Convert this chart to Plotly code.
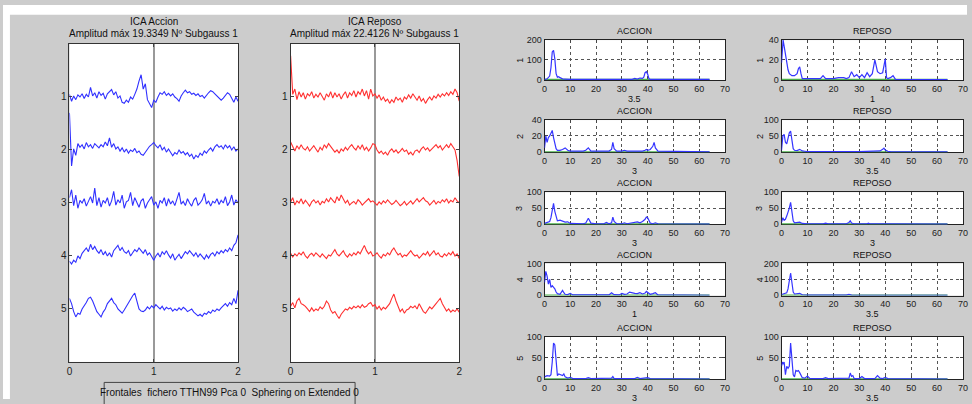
import numpy as np
import plotly.graph_objects as go

W, H = 972, 404

# ---------------- DATA ----------------
row_labels = ["1", "2", "3", "4", "5"]
time_ticks = [0, 1, 2]

# ICA components, deviation from each row's baseline (positive = up), time 0..2
accion_1 = [0.05,-0.08,0.02,-0.05,0.04,0.0,0.06,-0.03,0.05,0.0,0.18,0.02,0.08,-0.02,0.1,0.03,0.07,-0.04,0.06,0.1,
            0.14,0.04,0.1,-0.02,0.02,-0.1,-0.12,-0.06,-0.1,0.0,-0.04,0.05,0.15,0.3,0.42,0.15,0.25,-0.05,-0.12,-0.2,
            -0.06,-0.1,0.0,0.08,0.05,0.1,0.03,0.07,0.02,0.06,0.0,-0.03,-0.08,0.02,0.08,0.13,0.08,0.1,0.05,0.07,
            0.03,0.06,0.01,0.03,-0.02,0.04,0.08,0.12,0.1,0.06,0.02,-0.03,-0.06,-0.02,0.04,0.08,0.05,-0.04,-0.1,0.0,-0.08]
accion_2 = [0.7,-0.3,0.02,-0.1,0.12,0.05,0.1,0.02,0.14,0.06,0.1,0.03,0.12,0.08,0.04,0.1,0.06,0.15,0.08,0.23,
            0.05,0.12,0.02,0.06,-0.02,0.04,-0.04,0.02,-0.06,0.0,-0.03,0.03,-0.05,-0.02,-0.08,-0.1,-0.04,0.02,0.07,0.1,
            0.14,0.08,0.04,0.1,0.0,0.05,-0.04,0.02,-0.06,-0.11,-0.05,-0.08,0.0,-0.06,-0.03,-0.09,-0.05,-0.12,-0.08,-0.17,
            -0.1,-0.14,-0.06,-0.1,-0.02,-0.06,0.0,0.04,-0.02,0.06,0.1,0.05,0.08,0.02,0.1,0.04,0.08,0.0,0.06,-0.02,0.02]
accion_3 = [0.1,0.25,-0.05,0.15,-0.1,0.05,0.0,0.08,-0.06,0.03,0.12,0.0,0.28,-0.05,0.1,-0.08,0.05,0.0,0.1,-0.06,
            0.04,0.22,-0.04,0.06,0.0,0.15,-0.1,0.02,0.05,0.2,-0.05,0.1,0.0,-0.08,0.04,0.08,-0.1,0.0,0.06,0.12,
            -0.04,0.02,-0.1,0.05,0.0,0.1,-0.06,0.08,-0.02,0.04,-0.05,0.06,0.2,-0.02,0.03,-0.05,0.08,0.0,-0.06,0.05,
            0.1,-0.04,0.0,0.06,0.18,-0.02,0.04,-0.06,0.03,0.0,0.08,-0.03,0.05,0.0,0.12,-0.05,0.02,0.15,-0.04,0.06,0.0]
accion_4 = [-0.1,-0.15,-0.08,-0.12,0.0,-0.05,0.05,0.1,0.15,0.08,0.22,0.12,0.18,0.1,0.05,0.12,0.02,0.08,0.0,0.06,
            -0.02,0.1,0.15,0.2,0.1,0.16,0.08,0.05,0.1,0.0,0.06,0.12,0.08,0.15,0.1,0.05,0.12,0.02,0.06,-0.02,
            -0.08,0.0,0.05,-0.02,0.08,0.03,0.1,0.02,-0.04,0.04,-0.08,-0.02,0.03,-0.05,0.02,0.08,0.04,0.1,0.05,0.0,
            0.06,-0.02,0.04,0.0,-0.06,0.02,-0.04,0.03,0.06,0.0,0.08,0.04,0.1,0.06,0.12,0.08,0.15,0.1,0.2,0.25,0.4]
accion_5 = [0.2,0.1,-0.05,-0.15,-0.08,-0.1,0.0,0.05,0.12,0.2,0.22,0.15,0.05,-0.05,-0.1,-0.15,-0.06,0.0,0.1,0.15,
            0.2,0.12,0.08,0.0,-0.05,-0.08,-0.02,0.05,0.12,0.18,0.25,0.3,0.15,0.0,-0.04,-0.05,-0.02,0.04,0.0,0.06,
            0.02,0.08,0.04,0.0,0.05,-0.02,0.03,0.0,0.02,-0.04,0.0,-0.03,0.02,-0.02,0.03,0.0,-0.05,-0.02,0.0,-0.06,
            -0.1,-0.13,-0.1,-0.14,-0.08,-0.1,-0.05,-0.08,-0.02,-0.05,0.0,-0.03,0.02,0.06,0.1,0.05,0.12,0.08,0.2,0.1,0.35]

reposo_1 = [0.78,0.05,0.15,-0.05,0.1,0.0,0.08,-0.04,0.06,0.02,0.1,-0.02,0.05,0.0,0.08,0.02,-0.06,0.06,0.0,0.1,
            -0.02,0.08,0.0,0.06,-0.04,0.04,0.1,-0.02,0.08,0.03,0.12,0.0,0.1,0.05,0.15,0.02,0.12,-0.04,0.15,0.02,
            0.06,-0.02,0.04,-0.06,0.0,-0.08,-0.04,-0.12,-0.05,-0.1,0.0,-0.06,-0.02,-0.1,0.0,-0.04,0.04,-0.02,0.06,0.0,
            -0.06,0.02,-0.08,-0.03,-0.12,-0.05,0.0,-0.06,0.02,-0.02,0.05,0.0,0.06,0.02,0.08,0.03,0.1,0.05,0.15,0.08,-0.08]
reposo_2 = [0.15,0.05,-0.02,0.08,0.02,0.1,0.03,0.0,0.06,-0.02,0.04,0.08,0.02,-0.04,0.05,0.0,0.1,0.04,0.12,0.06,
            0.02,-0.04,0.0,-0.06,0.02,-0.02,0.05,0.0,0.06,0.1,0.04,0.0,0.08,0.02,0.1,0.0,0.05,-0.02,0.04,0.12,
            0.1,0.0,-0.06,-0.02,-0.08,-0.04,-0.1,-0.02,0.02,-0.04,0.0,-0.06,-0.02,0.03,-0.03,0.0,-0.08,-0.04,-0.1,-0.02,
            0.0,-0.05,0.02,0.06,0.0,0.04,-0.02,0.02,0.06,0.1,0.04,0.08,0.0,0.05,0.1,0.04,0.12,0.06,0.0,-0.2,-0.5]
reposo_3 = [0.02,0.1,-0.04,0.04,0.0,0.08,-0.02,0.05,0.0,-0.06,0.02,0.06,0.0,0.04,-0.04,0.03,0.0,0.08,0.02,0.1,
            0.05,0.0,0.12,0.04,0.15,0.06,0.0,0.05,-0.04,0.0,0.03,-0.02,0.06,0.02,-0.04,0.0,0.05,0.08,0.02,0.04,
            0.0,-0.04,0.02,-0.02,0.04,0.0,0.06,0.02,-0.03,0.0,0.05,0.0,-0.05,-0.02,0.03,-0.04,0.0,0.04,-0.02,0.02,
            0.08,0.02,0.06,0.1,0.04,0.02,-0.04,0.0,0.05,-0.02,0.03,0.0,0.06,0.02,0.08,0.0,0.05,0.02,0.1,0.04,0.0]
reposo_4 = [0.05,-0.02,0.04,0.0,0.06,0.02,0.08,0.0,-0.04,0.02,0.05,0.0,0.06,0.02,-0.02,0.04,0.0,-0.05,0.02,0.0,
            0.06,0.12,0.04,0.0,0.05,0.1,0.02,-0.02,0.04,0.0,0.06,0.02,0.08,0.04,0.12,0.2,0.1,0.04,0.08,0.0,
            0.02,0.06,0.0,-0.04,0.03,0.0,0.06,0.02,0.1,0.15,0.08,0.02,0.05,-0.02,0.02,0.0,0.05,0.1,0.04,0.0,
            0.02,-0.04,0.0,0.05,0.02,0.08,0.0,0.04,0.1,0.02,0.06,0.0,-0.02,0.04,0.0,0.06,0.02,0.08,0.0,0.04,-0.05]
reposo_5 = [0.05,0.12,0.02,0.15,0.2,0.1,0.08,0.05,0.0,-0.05,0.02,-0.04,0.0,-0.03,0.04,0.0,0.05,0.15,0.1,-0.02,
            -0.08,-0.05,-0.12,-0.18,-0.1,-0.05,0.0,-0.02,0.03,0.0,0.05,0.02,0.06,0.02,0.08,0.03,0.05,0.1,0.12,0.05,
            0.08,0.0,0.05,-0.02,0.03,0.0,0.05,0.1,0.2,0.28,0.15,0.05,-0.05,0.0,-0.08,-0.02,0.0,0.05,0.02,0.06,
            0.0,0.1,0.02,-0.05,-0.08,-0.02,0.04,0.0,0.06,0.1,0.15,0.2,0.1,0.02,-0.04,0.0,-0.06,-0.02,-0.05,0.0,-0.06]

accion_series = [accion_1, accion_2, accion_3, accion_4, accion_5]
reposo_series = [reposo_1, reposo_2, reposo_3, reposo_4, reposo_5]

# Spectra (frequency Hz, amplitude)
freq_accion_1 = [0,1,2,2.5,3,3.5,4,4.5,5,5.5,6,7,8,9,10,20,30,33,34,35,36,37,38,38.5,39,39.5,40,40.5,41,45,64]
amp_accion_1 = [0,4,18,60,140,148,105,30,12,15,10,4,3,2,1,1,1,4,1,6,3,8,6,12,35,40,28,5,1,1,1]
freq_reposo_1 = [0,0.3,0.6,1,1.5,2,2.5,3,4,5,6,6.5,7,7.5,8,9,12,15,16,17,20,22,24,25,26,27,28,29,30,31,32,33,34,35,36,37,38,39,40,40.5,41,42,43,44,64]
amp_reposo_1 = [17,30,40,34,26,16,10,6,4,4,6,11,13,6,1,1,1,1,4,1,1,2,2,1,2,8,3,5,2,5,2,7,3,6,20,8,6,7,21,2,1,2,4,0,0]
freq_accion_2 = [0,0.5,1,1.5,2,2.5,3,3.5,4,4.5,5,6,7,8,9,10,15,16,17,18,20,25,26,26.5,27,28,30,31,32,35,38,39,39.5,40,41,42,42.5,43,44,64]
amp_accion_2 = [5,20,12,18,20,25,27,18,10,4,2,2,3,5,2,1,1,2,5,1,1,1,3,12,4,1,1,2,1,1,1,2,3,2,3,7,12,5,1,0]
freq_reposo_2 = [0,0.5,1,1.5,2,2.5,3,3.5,4,4.5,5,6,7,8,9,10,30,35,37,38,39,39.5,40,41,42,64]
amp_reposo_2 = [5,50,55,30,25,40,60,65,30,10,5,4,8,3,2,1,1,1,2,3,8,12,6,2,1,0]
freq_accion_3 = [0,1,2,2.5,3,3.5,4,4.5,5,6,7,8,9,10,15,16,17,18,20,23,24,25,26,26.5,27,28,30,31,32,33,34,35,36,37,38,39,39.5,40,41,42,43,44,64]
amp_accion_3 = [2,4,8,20,50,65,40,20,10,12,8,6,7,2,1,3,18,3,1,1,5,1,4,22,8,1,1,4,1,2,4,5,7,4,8,15,22,20,3,1,4,1,0]
freq_reposo_3 = [0,0.5,1,1.5,2,2.5,3,3.5,4,4.5,5,6,7,8,10,16,17,18,25,26,26.5,27,28,33,33.5,34,39,40,41,64]
amp_reposo_3 = [5,20,12,15,25,35,50,68,30,10,4,5,6,2,1,1,3,1,1,5,10,3,1,1,3,1,1,3,1,0]
freq_accion_4 = [0,0.5,1,1.5,2,2.5,3,3.5,4,4.5,5,6,7,7.5,8,9,10,11,20,25,26,27,29,30,31,32,33,34,35,36,37,38,39,39.5,40,41,42,43,44,64]
amp_accion_4 = [40,75,60,35,50,25,30,25,20,10,5,3,15,8,3,2,6,1,1,1,8,2,1,6,3,4,10,7,6,5,8,4,7,12,8,3,5,8,1,0]
freq_reposo_4 = [0,1,2,2.5,3,3.5,4,4.5,5,6,7,8,10,25,26,27,64]
amp_reposo_4 = [5,8,15,40,100,140,80,20,8,10,12,3,1,1,6,1,0]
freq_accion_5 = [0,1,2,2.5,3,3.5,4,4.5,5,5.5,6,7,7.5,8,9,10,11,16,17,18,26,26.5,27,30,35,36,37,40,41,64]
amp_accion_5 = [5,8,7,10,40,85,80,30,8,12,10,8,12,5,2,4,1,1,3,1,2,6,1,1,1,4,1,3,1,0]
freq_reposo_5 = [0,0.3,0.6,1,1.5,2,2.5,3,3.5,4,4.5,5,5.5,6,6.5,7,7.5,8,9,10,11,16,17,18,26,26.5,27,27.5,28,30,31,32,36,37,38,39,40,41,64]
amp_reposo_5 = [30,40,35,40,10,30,25,30,85,50,10,5,20,18,20,15,8,3,2,7,1,1,3,1,2,14,6,8,1,1,6,1,1,8,2,1,4,1,0]

spec_accion = [(freq_accion_1, amp_accion_1), (freq_accion_2, amp_accion_2), (freq_accion_3, amp_accion_3),
               (freq_accion_4, amp_accion_4), (freq_accion_5, amp_accion_5)]
spec_reposo = [(freq_reposo_1, amp_reposo_1), (freq_reposo_2, amp_reposo_2), (freq_reposo_3, amp_reposo_3),
               (freq_reposo_4, amp_reposo_4), (freq_reposo_5, amp_reposo_5)]
ymax_accion = [200, 40, 100, 100, 100]
ymax_reposo = [40, 100, 100, 200, 100]
xlabel_accion = ["3.5", "3", "3", "1", "3"]
xlabel_reposo = ["1", "3.5", "3", "3.5", "3.5"]
freq_ticks = [0, 10, 20, 30, 40, 50, 60, 70]

# ---------------- LAYOUT HELPERS ----------------
def xd(a, b):
    return [a / W, b / W]

def yd(top, bottom):
    return [1 - bottom / H, 1 - top / H]

def px(x):
    return x / W

def py(y):
    return 1 - y / H

FONT = "Liberation Sans, Arial, sans-serif"
NARROW = "Liberation Sans Narrow, Liberation Sans, sans-serif"
BG = "#cccccc"

fig = go.Figure()
layout = dict(width=W, height=H, margin=dict(l=0, r=0, t=0, b=0),
              paper_bgcolor=BG, plot_bgcolor="white", showlegend=False,
              annotations=[], shapes=[])

def note(x, y, text, size=10, family=FONT, angle=0):
    layout["annotations"].append(dict(x=px(x), y=py(y), xref="paper", yref="paper", text=text,
                                      showarrow=False, xanchor="center", yanchor="middle",
                                      textangle=angle, font=dict(family=family, size=size, color="#111")))

# white strips (screen capture border)
layout["shapes"].append(dict(type="rect", xref="paper", yref="paper", x0=0, x1=1, y0=py(10), y1=1,
                             fillcolor="white", line=dict(width=0), layer="below"))
layout["shapes"].append(dict(type="rect", xref="paper", yref="paper", x0=0, x1=px(7), y0=0, y1=1,
                             fillcolor="white", line=dict(width=0), layer="below"))

# ---- left: ICA time series ----
t_left = [(67, 237), (290, 460)]
series_sets = [accion_series, reposo_series]
colors = ["#3030ff", "#ff3030"]
titles = [("ICA Accion", "Amplitud máx 19.3349 Nº Subgauss 1"),
          ("ICA Reposo", "Amplitud máx 22.4126 Nº Subgauss 1")]
for k in range(2):
    n = k + 1
    xa, ya = ("x" if n == 1 else f"x{n}"), ("y" if n == 1 else f"y{n}")
    for i, s in enumerate(series_sets[k]):
        t = np.linspace(0, 2, len(s))
        fig.add_trace(go.Scatter(x=t, y=[(i + 1) - v for v in s], mode="lines",
                                 line=dict(color=colors[k], width=1.1), xaxis=xa, yaxis=ya,
                                 hoverinfo="skip"))
    xkey = "xaxis" if n == 1 else f"xaxis{n}"
    ykey = "yaxis" if n == 1 else f"yaxis{n}"
    layout[xkey] = dict(domain=xd(*t_left[k]), anchor=ya, range=[0, 2], tickvals=time_ticks,
                        ticktext=[str(v) for v in time_ticks], ticks="inside", ticklen=3,
                        showline=True, linecolor="#333", linewidth=1, mirror="ticks",
                        showgrid=True, gridcolor="#999", gridwidth=2, zeroline=False,
                        tickfont=dict(family=FONT, size=10, color="#222"))
    layout[ykey] = dict(domain=yd(40, 366), anchor=xa, range=[6, 0], tickvals=[1, 2, 3, 4, 5],
                        ticktext=row_labels, ticks="inside", ticklen=3,
                        showline=True, linecolor="#333", linewidth=1, mirror="ticks",
                        showgrid=False, zeroline=False,
                        tickfont=dict(family=FONT, size=10, color="#222"))
    cx = (t_left[k][0] + t_left[k][1]) / 2
    note(cx, 17, titles[k][0])
    note(cx, 29, titles[k][1])

# bottom info box
layout["shapes"].append(dict(type="rect", xref="paper", yref="paper", x0=px(102), x1=px(355),
                             y0=py(412), y1=py(387), fillcolor=BG, line=dict(color="#444", width=1)))
note(228, 397, "Frontales  fichero TTHN99 Pca 0  Sphering on Extended 0")

# ---- right: spectra ----
cols = [(546, 728), (785, 968)]
rows = [(36, 77), (118, 151), (192, 225), (265, 298), (340, 384)]
spec_sets = [spec_accion, spec_reposo]
ymaxs = [ymax_accion, ymax_reposo]
xlabels = [xlabel_accion, xlabel_reposo]
ptitles = ["ACCION", "REPOSO"]
ylab_x = [521, 763]
n = 3
for r in range(5):
    for c in range(2):
        xa, ya = f"x{n}", f"y{n}"
        f, a = spec_sets[c][r]
        ym = ymaxs[c][r]
        fig.add_trace(go.Scatter(x=[0, 64], y=[0, 0], mode="lines", line=dict(color="#4cb04c", width=1.5),
                                 xaxis=xa, yaxis=ya, hoverinfo="skip"))
        fig.add_trace(go.Scatter(x=f, y=a, mode="lines", line=dict(color="#3535ff", width=1.2),
                                 xaxis=xa, yaxis=ya, hoverinfo="skip"))
        layout[f"xaxis{n}"] = dict(domain=xd(*cols[c]), anchor=ya, range=[0, 70], tickvals=freq_ticks,
                                   ticktext=[str(v) for v in freq_ticks], ticks="inside", ticklen=3,
                                   showline=True, linecolor="#222", linewidth=1, mirror="ticks",
                                   showgrid=True, gridcolor="#555", griddash="dot", gridwidth=1,
                                   zeroline=False, layer="below traces",
                                   tickfont=dict(family=NARROW, size=9, color="#222"))
        layout[f"yaxis{n}"] = dict(domain=yd(*rows[r]), anchor=xa, range=[-ym * 0.012, ym],
                                   tickvals=[0, ym / 2, ym], ticktext=[str(0), str(ym // 2), str(ym)],
                                   ticks="inside", ticklen=3,
                                   showline=True, linecolor="#222", linewidth=1, mirror="ticks",
                                   showgrid=True, gridcolor="#555", griddash="dot", gridwidth=1,
                                   zeroline=False, layer="below traces",
                                   tickfont=dict(family=NARROW, size=9, color="#222"))
        cx = (cols[c][0] + cols[c][1]) / 2
        note(cx, rows[r][0] - 9, ptitles[c], size=9, family=NARROW)
        note(cx, rows[r][1] + 19, xlabels[c][r], size=9, family=NARROW)
        note(ylab_x[c], (rows[r][0] + rows[r][1]) / 2, row_labels[r], size=9, family=NARROW, angle=-90)
        n += 1

fig.update_layout(**layout)
fig.write_html("out.html", config={"displayModeBar": False},
               post_script="document.body.style.margin='0';document.body.style.overflow='hidden';"
                           "document.documentElement.style.overflow='hidden';"
                           "document.body.style.background='#cccccc';"
                           "document.documentElement.style.background='#cccccc';")
